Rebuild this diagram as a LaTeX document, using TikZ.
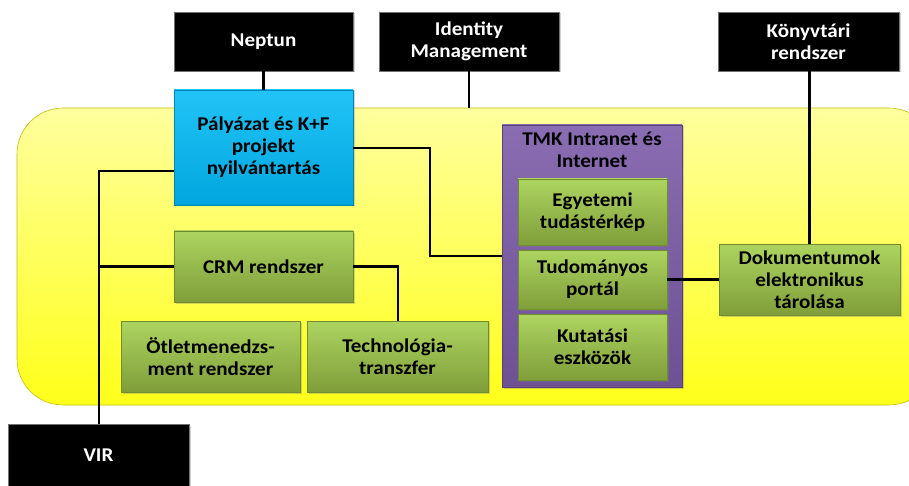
\documentclass[tikz,border=0pt]{standalone}
\usepackage{fontspec}
\setmainfont{Carlito}[FakeStretch=1.08]
\usetikzlibrary{shadows}
\definecolor{ytop}{HTML}{FFFF9E}
\definecolor{ybot}{HTML}{FFFF1A}
\definecolor{gtop}{HTML}{ADD460}
\definecolor{gbot}{HTML}{7F9E3A}
\definecolor{gline}{HTML}{6F8C30}
\definecolor{btop}{HTML}{22C4F7}
\definecolor{bbot}{HTML}{00A6DE}
\definecolor{ptop}{HTML}{8A6CB2}
\definecolor{pbot}{HTML}{6E5193}
\tikzset{
  lbl/.style={align=center, inner sep=0pt, font=\bfseries\fontsize{19.5}{22}\selectfont},
  boxbase/.style={rectangle, lbl, drop shadow={shadow xshift=1.5pt, shadow yshift=-1.5pt, opacity=0.35}},
  blackbox/.style={boxbase, fill=black, draw=black!55, line width=0.8pt, text=white},
  greenbox/.style={boxbase, top color=gtop, bottom color=gbot, draw=gline, line width=0.6pt, text=black},
  bluebox/.style={boxbase, top color=btop, bottom color=bbot, draw=bbot!80!black, line width=0.6pt, text=black},
  purplebox/.style={boxbase, top color=ptop, bottom color=pbot, draw=pbot!80!black, line width=0.6pt},
  conn/.style={draw=black, line width=2.8pt},
}
\begin{document}
\begin{tikzpicture}[x=1pt,y=-1pt]
\useasboundingbox (0,0) rectangle (909,486);
% yellow area
\path[top color=ytop, bottom color=ybot, draw=ybot!75!black, line width=0.6pt, rounded corners=46pt]
  (17,108) rectangle (935,405);
% external systems
\node[blackbox, minimum width=179pt, minimum height=59pt] (neptun) at (263.5,41.5) {\raisebox{-2pt}{Neptun}};
\node[blackbox, minimum width=180pt, minimum height=59pt] (idm) at (469,41.5) {Identity\\Management};
\node[blackbox, minimum width=181pt, minimum height=59pt] (konyv) at (808.5,41.5) {Könyvtári\\rendszer};
\node[blackbox, minimum width=181pt, minimum height=62pt] (vir) at (98.5,455) {\raisebox{-4pt}{VIR}};
% inner boxes
\node[bluebox, minimum width=179pt, minimum height=115pt] (proj) at (263.5,147.5) {Pályázat és K+F\\projekt\\nyilvántartás};
\node[greenbox, minimum width=179pt, minimum height=71pt] (crm) at (263.5,266.5) {CRM rendszer};
\node[greenbox, minimum width=179pt, minimum height=71pt] (otlet) at (210.5,356.5) {Ötletmenedzs-\\ment rendszer};
\node[greenbox, minimum width=181pt, minimum height=71pt] (tech) at (397.5,356.5) {Technológia-\\transzfer};
\node[purplebox, minimum width=180pt, minimum height=262pt] (tmk) at (592,256) {};
\node[lbl, anchor=north] (tmklbl) at (592,132) {TMK Intranet és\\Internet};
\node[greenbox, minimum width=149pt, minimum height=66pt] (egy) at (592.5,212) {Egyetemi\\tudástérkép};
\node[greenbox, minimum width=149pt, minimum height=59pt] (tud) at (592.5,279.5) {Tudományos\\portál};
\node[greenbox, minimum width=149pt, minimum height=66pt] (kut) at (592.5,347) {Kutatási\\eszközök};
\node[greenbox, minimum width=181pt, minimum height=71pt] (doc) at (809.5,279.5) {Dokumentumok\\elektronikus\\tárolása};
% connector points
\coordinate (idmend) at (469,108);
\coordinate (bendA) at (430,148);
\coordinate (bendB) at (430,256);
\coordinate (trunk) at (99,171);
\coordinate (trunkCRM) at (99,266.5);
\coordinate (bendC) at (398,266.5);
% connectors
\draw[conn] (neptun.south) -- (proj.north);
\draw[conn] (idm.south) -- (idmend);
\draw[conn] (konyv.south -| doc.north) -- (doc.north);
\draw[conn] (proj.east |- bendA) -- (bendA) -- (bendB) -- (tmk.west |- bendB);
\draw[conn] (proj.west |- trunk) -- (trunk) -- (vir.north -| trunk);
\draw[conn] (crm.west) -- (trunkCRM);
\draw[conn] (crm.east) -- (bendC) -- (tech.north -| bendC);
\draw[conn] (tud.east) -- (doc.west);
\end{tikzpicture}
\end{document}
